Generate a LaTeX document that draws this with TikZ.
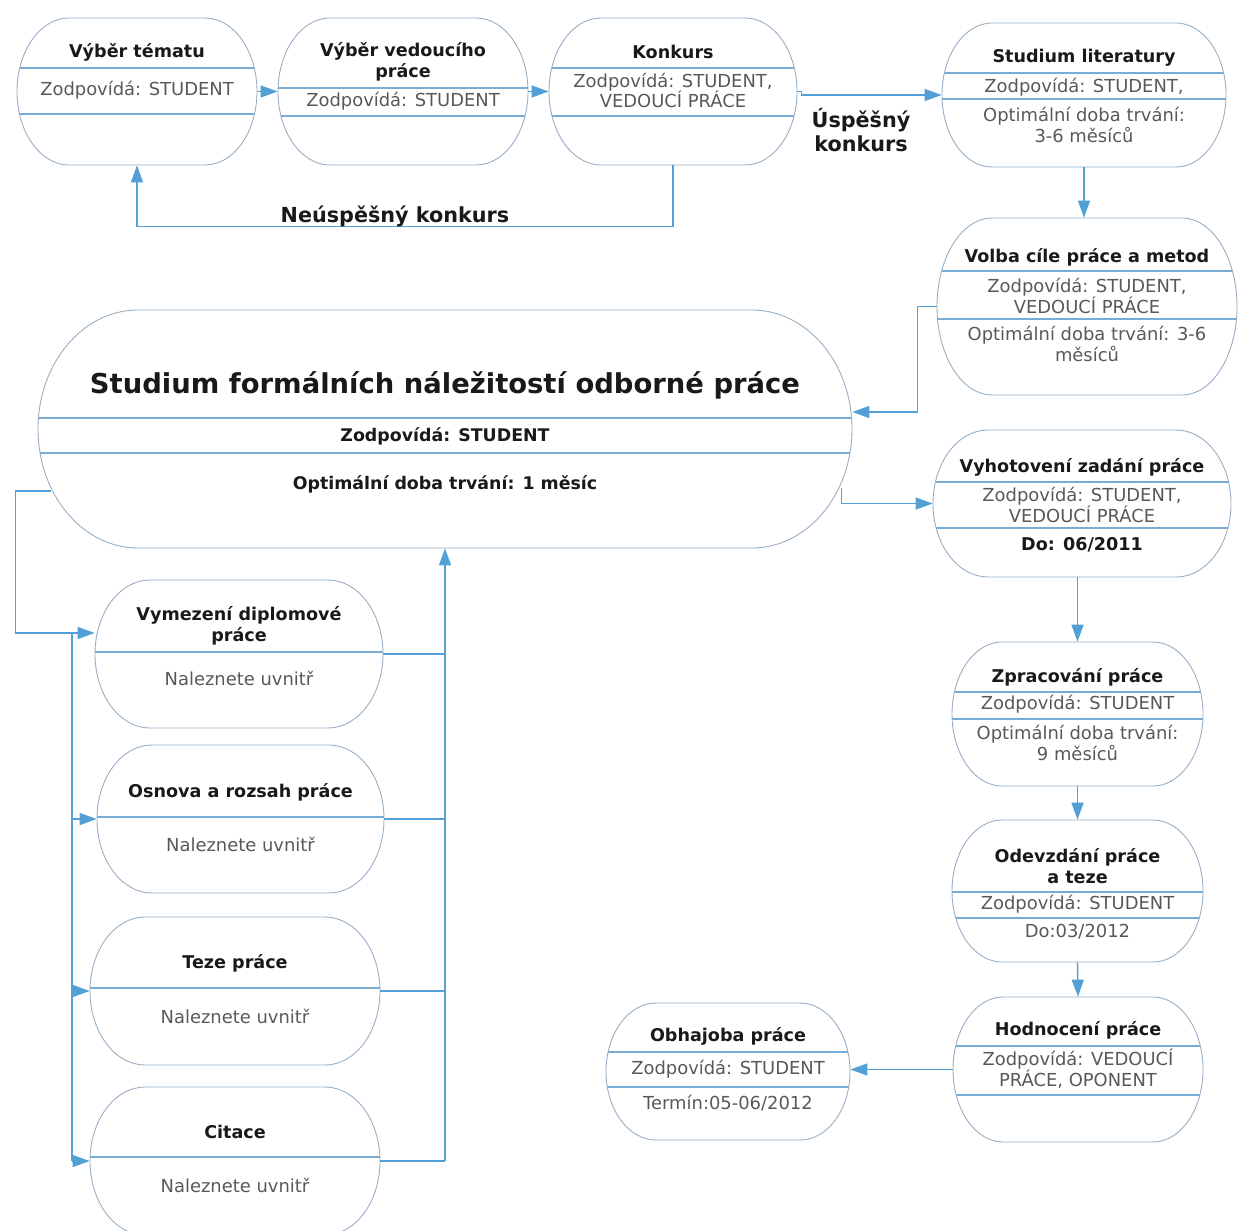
\documentclass[tikz,border=0pt]{standalone}
\usepackage{fontspec}
\setmainfont{DejaVu Sans}
\usepackage{tikz}
\usetikzlibrary{arrows.meta,calc}

\definecolor{obrysbarva}{RGB}{150,172,196}
\definecolor{delicbarva}{RGB}{120,172,212}
\definecolor{sipkabarva}{RGB}{82,160,214}
\definecolor{seda}{RGB}{88,88,88}

% jmeno, x, y, sirka, vyska, zaobleni, delici cary
\newcommand{\blok}[7]{%
  \node[minimum width=#4*0.02cm, minimum height=#5*0.02cm, inner sep=0pt] (#1) at (#2,#3) {};
  \foreach \hl in {#7}
    \draw[delic] ({#2-#4/2+#6-#6*sqrt(1-((\hl-#3)*2/#5)*((\hl-#3)*2/#5))},\hl) --
      ({#2+#4/2-#6+#6*sqrt(1-((\hl-#3)*2/#5)*((\hl-#3)*2/#5))},\hl);
  \draw[obrys] (#2-#4/2+#6,#3-#5/2) -- (#2+#4/2-#6,#3-#5/2)
    arc[start angle=-90, end angle=90, x radius=#6, y radius=#5/2]
    -- (#2-#4/2+#6,#3+#5/2)
    arc[start angle=90, end angle=270, x radius=#6, y radius=#5/2] -- cycle;
}

\begin{document}
\begin{tikzpicture}[x=0.02cm, y=-0.02cm,
  obrys/.style={draw=obrysbarva, line width=0.5pt},
  delic/.style={draw=delicbarva, line width=0.6pt},
  spoj/.style={draw=sipkabarva, line width=0.8pt},
  sipka/.style={spoj, -{Triangle[length=3.4mm, width=2.4mm]}},
  nadpis/.style={font=\fontsize{10}{11.9}\selectfont\bfseries, text=black!90, align=center, inner sep=0pt},
  popis/.style={font=\fontsize{10.2}{11.9}\selectfont, text=seda, align=center, inner sep=0pt},
  tucne/.style={font=\fontsize{9.9}{11.9}\selectfont\bfseries, text=black!90, align=center, inner sep=0pt},
  stitek/.style={font=\fontsize{11.8}{13.6}\selectfont\bfseries, text=black!90, align=center, inner sep=0pt}]
\useasboundingbox (0,0) rectangle (1239,1230);

% horni rada
\blok{tema}{137}{91.5}{240}{147}{52}{68,114}
\node[nadpis] (tema-n) at (137,52) {Výběr tématu};
\node[popis] (tema-z) at (137,90) {Zodpovídá: STUDENT};

\blok{vedouci}{403}{91.5}{250}{147}{52}{88,116}
\node[nadpis] (vedouci-n) at (403,62) {Výběr vedoucího\\práce};
\node[popis] (vedouci-z) at (403,101) {Zodpovídá: STUDENT};

\blok{konkurs}{673}{91.5}{248}{147}{52}{68,116}
\node[nadpis] (konkurs-n) at (673,52) {Konkurs};
\node[popis] (konkurs-z) at (673,90.5) {Zodpovídá: STUDENT,\\VEDOUCÍ PRÁCE};

\blok{literatura}{1084}{95}{284}{144}{50}{73,99}
\node[nadpis] (literatura-n) at (1084,58) {Studium literatury};
\node[popis] (literatura-z) at (1084,87) {Zodpovídá: STUDENT,};
\node[popis] (literatura-d) at (1084,125) {Optimální doba trvání:\\3-6 měsíců};

% pravy sloupec
\blok{volba}{1087}{306.5}{300}{177}{55}{271,319}
\node[nadpis] (volba-n) at (1087,257) {Volba cíle práce a metod};
\node[popis] (volba-z) at (1087,296) {Zodpovídá: STUDENT,\\VEDOUCÍ PRÁCE};
\node[popis] (volba-d) at (1087,344) {Optimální doba trvání: 3-6\\měsíců};

\blok{vyhotoveni}{1082}{503.5}{298}{147}{55}{482,528}
\node[nadpis] (vyhotoveni-n) at (1082,467) {Vyhotovení zadání práce};
\node[popis] (vyhotoveni-z) at (1082,505) {Zodpovídá: STUDENT,\\VEDOUCÍ PRÁCE};
\node[nadpis] (vyhotoveni-d) at (1082,545) {Do: 06/2011};

\blok{zpracovani}{1077.5}{714}{251}{144}{50}{692,719}
\node[nadpis] (zpracovani-n) at (1077.5,677) {Zpracování práce};
\node[popis] (zpracovani-z) at (1077.5,704) {Zodpovídá: STUDENT};
\node[popis] (zpracovani-d) at (1077.5,743) {Optimální doba trvání:\\9 měsíců};

\blok{odevzdani}{1077.5}{891}{251}{142}{50}{892,918}
\node[nadpis] (odevzdani-n) at (1077.5,866) {Odevzdání práce\\a teze};
\node[popis] (odevzdani-z) at (1077.5,904) {Zodpovídá: STUDENT};
\node[popis] (odevzdani-d) at (1077.5,932) {Do:03/2012};

\blok{hodnoceni}{1078}{1069.5}{250}{145}{50}{1046,1095}
\node[nadpis] (hodnoceni-n) at (1078,1030) {Hodnocení práce};
\node[popis] (hodnoceni-z) at (1078,1069) {Zodpovídá: VEDOUCÍ\\PRÁCE, OPONENT};

\blok{obhajoba}{728}{1071.5}{244}{137}{50}{1052,1087}
\node[nadpis] (obhajoba-n) at (728,1036) {Obhajoba práce};
\node[popis] (obhajoba-z) at (728,1069) {Zodpovídá: STUDENT};
\node[popis] (obhajoba-d) at (728,1103) {Termín:05-06/2012};

% velky blok
\blok{velky}{445}{429}{814}{238}{100}{418,453}
\node[font=\fontsize{15.6}{18}\selectfont\bfseries, text=black!90, inner sep=0pt] (velky-n) at (445,385) {Studium formálních náležitostí odborné práce};
\node[tucne] (velky-z) at (445,436) {Zodpovídá: STUDENT};
\node[tucne] (velky-d) at (445,484) {Optimální doba trvání: 1 měsíc};

% levy sloupec
\blok{vymezeni}{239}{654}{288}{148}{55}{652}
\node[nadpis] (vymezeni-n) at (239,626) {Vymezení diplomové\\práce};
\node[popis] (vymezeni-z) at (239,678) {Naleznete uvnitř};

\blok{osnova}{240.5}{819}{287}{148}{55}{817}
\node[nadpis] (osnova-n) at (240.5,792) {Osnova a rozsah práce};
\node[popis] (osnova-z) at (240.5,844) {Naleznete uvnitř};

\blok{teze}{235}{991}{290}{148}{55}{988}
\node[nadpis] (teze-n) at (235,963) {Teze práce};
\node[popis] (teze-z) at (235,1016) {Naleznete uvnitř};

\blok{citace}{235}{1161}{290}{148}{55}{1157}
\node[nadpis] (citace-n) at (235,1132) {Citace};
\node[popis] (citace-z) at (235,1185) {Naleznete uvnitř};

% spojnice
\draw[sipka] (tema) -- (vedouci);
\draw[sipka] (vedouci) -- (konkurs);
\draw[sipka] (konkurs.south) -- ++(0,61) -| (tema.south);
\node[stitek] (neuspech) at (395,216) {Neúspěšný konkurs};
\draw[sipka] (konkurs.east) -- ++(4,0) |- (literatura.west);
\node[stitek] (uspech) at (861,130) {Úspěšný\\konkurs};
\draw[sipka] (literatura.south) -- (literatura.south |- volba.north);
\draw[sipka] (volba.west) -- ++(-19,0) |- ([yshift=0.34cm]velky.east);
\draw[sipka] ($(velky.east)+(-11,59)$) |- (vyhotoveni.west);
\draw[sipka] (vyhotoveni.south -| zpracovani.north) -- (zpracovani.north);
\draw[sipka] (zpracovani.south) -- (odevzdani.north);
\draw[sipka] (odevzdani.south) -- (hodnoceni.north);
\draw[sipka] (hodnoceni.west) -- (hodnoceni.west -| obhajoba.east);

\draw[sipka] ($(velky.west)+(13,62)$) -- ++(-35,0) |- ([yshift=0.42cm]vymezeni.west);
\coordinate (rozcesti) at (72,633);
\draw[spoj] (rozcesti) -- (rozcesti |- citace.west);
\foreach \c in {osnova,teze,citace}
  \draw[sipka] (rozcesti |- \c.west) -- (\c.west);
\foreach \c in {vymezeni,osnova,teze,citace}
  \draw[spoj] (\c.east) -- (\c.east -| velky.south);
\draw[sipka] (citace.east -| velky.south) -- (velky.south);
\end{tikzpicture}
\end{document}
